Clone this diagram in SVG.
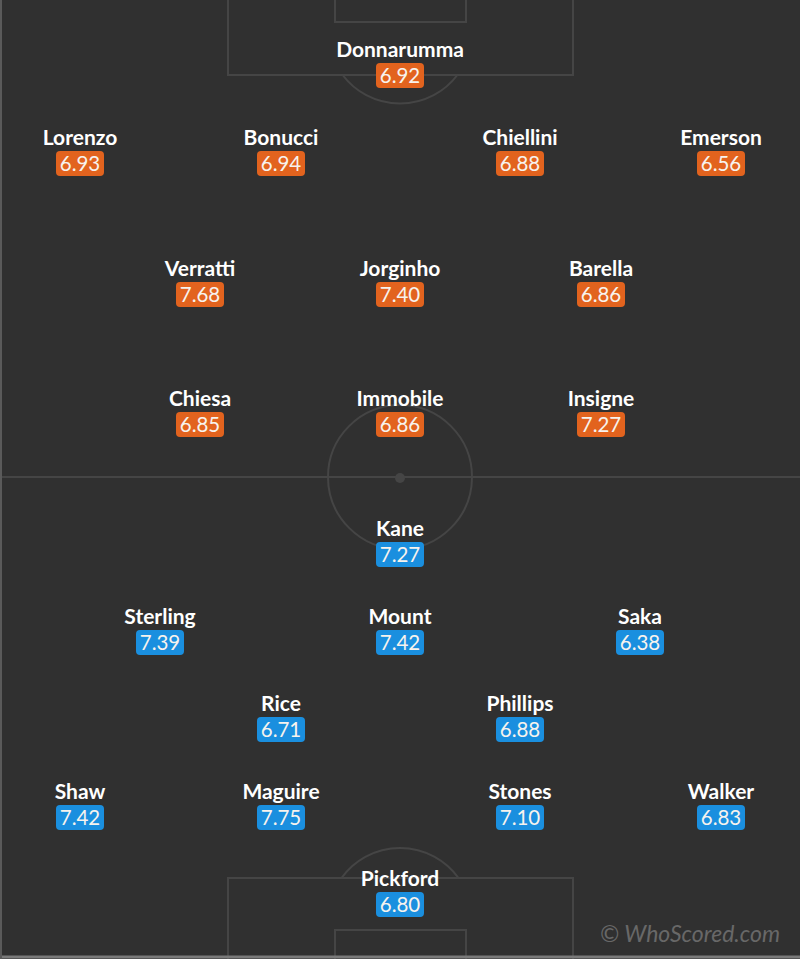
<svg xmlns="http://www.w3.org/2000/svg" width="800" height="959" viewBox="0 0 800 959">
<style>
.bg{fill:#303030}
.ln{fill:none;stroke:#454545;stroke-width:2}
.nm{font-family:Lato,"Liberation Sans",sans-serif;font-weight:bold;font-size:21px;fill:#ffffff;text-anchor:middle}
.sc{font-family:Lato,"Liberation Sans",sans-serif;font-size:20.5px;fill:#f7f3ee;text-anchor:middle}
.it{fill:#e2631e}
.en{fill:#1a8fdf}
.wm{font-family:Lato,"Open Sans",sans-serif;font-style:italic;font-size:23px;fill:#686868;text-anchor:end}
</style>
<defs>
<rect id="b" x="-24" y="0" width="48" height="25" rx="4"/>
</defs>
<rect class="bg" x="0" y="0" width="800" height="959"/>
<g id="pitch">
<rect class="ln" x="228" y="-2" width="345" height="77"/>
<rect class="ln" x="335" y="-2" width="131" height="24"/>
<path class="ln" d="M342.6,75 A72,72 0 0 0 457.4,75"/>
<line class="ln" x1="0" y1="477" x2="800" y2="477"/>
<circle class="ln" cx="400" cy="477" r="72"/>
<circle cx="400" cy="478" r="5" fill="#454545"/>
<rect class="ln" x="228" y="878" width="345" height="90"/>
<rect class="ln" x="335" y="930" width="131" height="40"/>
<path class="ln" d="M341.5,878 A72,72 0 0 1 458.5,878"/>
<line x1="0" y1="957" x2="800" y2="957" stroke="#7a7a7a" stroke-width="3"/>
<line x1="1" y1="0" x2="1" y2="959" stroke="#5a5a5a" stroke-width="2"/>
</g>
<g id="connectors"/>
<g id="donnarumma" transform="translate(400,0)"><text class="nm" y="57">Donnarumma</text><use href="#b" class="it" y="63"/><text class="sc" y="82.5">6.92</text></g>
<g id="lorenzo" transform="translate(80,88)"><text class="nm" y="57">Lorenzo</text><use href="#b" class="it" y="63"/><text class="sc" y="82.5">6.93</text></g>
<g id="bonucci" transform="translate(281,88)"><text class="nm" y="57">Bonucci</text><use href="#b" class="it" y="63"/><text class="sc" y="82.5">6.94</text></g>
<g id="chiellini" transform="translate(520,88)"><text class="nm" y="57">Chiellini</text><use href="#b" class="it" y="63"/><text class="sc" y="82.5">6.88</text></g>
<g id="emerson" transform="translate(721,88)"><text class="nm" y="57">Emerson</text><use href="#b" class="it" y="63"/><text class="sc" y="82.5">6.56</text></g>
<g id="verratti" transform="translate(200,219)"><text class="nm" y="57">Verratti</text><use href="#b" class="it" y="63"/><text class="sc" y="82.5">7.68</text></g>
<g id="jorginho" transform="translate(400,219)"><text class="nm" y="57">Jorginho</text><use href="#b" class="it" y="63"/><text class="sc" y="82.5">7.40</text></g>
<g id="barella" transform="translate(601,219)"><text class="nm" y="57">Barella</text><use href="#b" class="it" y="63"/><text class="sc" y="82.5">6.86</text></g>
<g id="chiesa" transform="translate(200,349)"><text class="nm" y="57">Chiesa</text><use href="#b" class="it" y="63"/><text class="sc" y="82.5">6.85</text></g>
<g id="immobile" transform="translate(400,349)"><text class="nm" y="57">Immobile</text><use href="#b" class="it" y="63"/><text class="sc" y="82.5">6.86</text></g>
<g id="insigne" transform="translate(601,349)"><text class="nm" y="57">Insigne</text><use href="#b" class="it" y="63"/><text class="sc" y="82.5">7.27</text></g>
<g id="kane" transform="translate(400,479)"><text class="nm" y="57">Kane</text><use href="#b" class="en" y="63"/><text class="sc" y="82.5">7.27</text></g>
<g id="sterling" transform="translate(160,567)"><text class="nm" y="57">Sterling</text><use href="#b" class="en" y="63"/><text class="sc" y="82.5">7.39</text></g>
<g id="mount" transform="translate(400,567)"><text class="nm" y="57">Mount</text><use href="#b" class="en" y="63"/><text class="sc" y="82.5">7.42</text></g>
<g id="saka" transform="translate(640,567)"><text class="nm" y="57">Saka</text><use href="#b" class="en" y="63"/><text class="sc" y="82.5">6.38</text></g>
<g id="rice" transform="translate(281,654)"><text class="nm" y="57">Rice</text><use href="#b" class="en" y="63"/><text class="sc" y="82.5">6.71</text></g>
<g id="phillips" transform="translate(520,654)"><text class="nm" y="57">Phillips</text><use href="#b" class="en" y="63"/><text class="sc" y="82.5">6.88</text></g>
<g id="shaw" transform="translate(80,742)"><text class="nm" y="57">Shaw</text><use href="#b" class="en" y="63"/><text class="sc" y="82.5">7.42</text></g>
<g id="maguire" transform="translate(281,742)"><text class="nm" y="57">Maguire</text><use href="#b" class="en" y="63"/><text class="sc" y="82.5">7.75</text></g>
<g id="stones" transform="translate(520,742)"><text class="nm" y="57">Stones</text><use href="#b" class="en" y="63"/><text class="sc" y="82.5">7.10</text></g>
<g id="walker" transform="translate(721,742)"><text class="nm" y="57">Walker</text><use href="#b" class="en" y="63"/><text class="sc" y="82.5">6.83</text></g>
<g id="pickford" transform="translate(400,829)"><text class="nm" y="57">Pickford</text><use href="#b" class="en" y="63"/><text class="sc" y="82.5">6.80</text></g>
<text class="wm" x="780" y="942">© WhoScored.com</text>
</svg>
